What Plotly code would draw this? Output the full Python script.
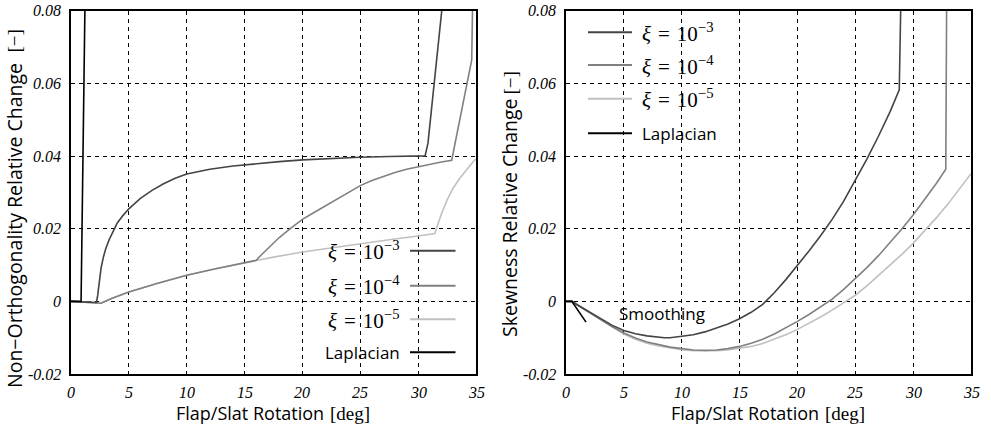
import plotly.graph_objects as go

# ---------------- data ----------------
# Non-orthogonality relative change vs flap/slat rotation
no_lap_x = [0, 0.87, 1.22]
no_lap_y = [0, 0, 0.085]

no_e3_x = [0, 1, 2.2, 2.3, 2.45, 2.6, 2.8, 3.0, 3.3, 3.6, 4.0, 4.5, 5, 6, 7, 8, 9, 10, 12, 14,
           16, 18, 20, 22.5, 25, 27.5, 30.6, 30.85, 32.2]
no_e3_y = [0, -0.0002, -0.0003, 0.0015, 0.0058, 0.0092, 0.0122, 0.0145, 0.0170, 0.0189, 0.0216,
           0.0237, 0.0255, 0.0284, 0.0306, 0.0324, 0.0339, 0.0351, 0.0364, 0.0373, 0.0380, 0.0385,
           0.0390, 0.0394, 0.0397, 0.0399, 0.0401, 0.0436, 0.085]

no_e4_x = [0, 1, 2.6, 3.5, 5, 7.5, 10, 12.5, 15, 16, 16.5, 17, 18, 19, 20, 21, 22, 23, 24, 25,
           26, 27, 28, 29, 30, 31, 32, 32.9, 34.63, 34.72]
no_e4_y = [0, -0.0002, -0.0005, 0.0008, 0.0026, 0.005, 0.0072, 0.009, 0.0107, 0.0113, 0.0130,
           0.0146, 0.0176, 0.0202, 0.0226, 0.0245, 0.0264, 0.0282, 0.0302, 0.0319, 0.0333,
           0.0345, 0.0355, 0.0364, 0.0371, 0.0378, 0.0384, 0.0389, 0.0665, 0.085]

no_e5_x = [0, 1, 2.6, 3.5, 5, 7.5, 10, 12.5, 15, 17.5, 20, 22.5, 25, 27.5, 30, 31.45, 31.7,
           32.0, 32.5, 33.0, 33.6, 34.2, 34.8, 35]
no_e5_y = [0, -0.0002, -0.0005, 0.0008, 0.0026, 0.005, 0.0072, 0.009, 0.0107, 0.0122, 0.0136,
           0.0148, 0.0159, 0.017, 0.018, 0.0187, 0.0212, 0.0240, 0.0279, 0.0311, 0.0339, 0.0364,
           0.0387, 0.0393]

# Skewness relative change vs flap/slat rotation
sk_lap_x = [0, 0.5, 1.73]
sk_lap_y = [0, 0, -0.0057]

sk_e3_x = [0, 0.5, 1, 1.5, 2, 3, 4, 5, 6, 7, 8, 8.5, 9, 10, 11, 12, 13, 14, 15, 16, 17, 18,
           19, 20, 21, 22, 23, 24, 25, 26, 27, 28, 28.8, 28.95]
sk_e3_y = [0, 0, -0.0010, -0.0019, -0.0029, -0.0048, -0.0066, -0.0080, -0.0089, -0.0095, -0.0099,
           -0.0100, -0.0100, -0.0097, -0.0092, -0.0084, -0.0074, -0.0062, -0.0048, -0.0030,
           -0.0008, 0.0024, 0.0060, 0.0098, 0.0139, 0.0181, 0.0226, 0.0276, 0.0333, 0.0392,
           0.0455, 0.0522, 0.0583, 0.085]

sk_e4_x = [0, 0.5, 1, 1.5, 2, 3, 4, 5, 6, 7, 8, 9, 10, 11, 12, 13, 14, 15, 16, 17, 18, 19, 20,
           21, 22, 23, 24, 25, 26, 27, 28, 29, 30, 31, 32, 32.82, 32.9]
sk_e4_y = [0, 0, -0.0010, -0.0020, -0.0030, -0.0050, -0.0070, -0.0087, -0.0101, -0.0112,
           -0.0120, -0.0126, -0.0130, -0.0134, -0.0135, -0.0134, -0.0130, -0.0124, -0.0115,
           -0.0104, -0.0090, -0.0073, -0.0055, -0.0036, -0.0016, 0.0006, 0.0033, 0.0062, 0.0093,
           0.0126, 0.0161, 0.0199, 0.0238, 0.0281, 0.0325, 0.0364, 0.085]

sk_e5_x = [0, 0.5, 1, 1.5, 2, 3, 4, 5, 6, 7, 8, 9, 10, 11, 12, 13, 14, 15, 16, 17, 18, 19, 20,
           21, 22, 23, 24, 25, 26, 27, 28, 29, 30, 31, 32, 33, 34, 35]
sk_e5_y = [0, 0, -0.0010, -0.0020, -0.0030, -0.0051, -0.0072, -0.0090, -0.0104, -0.0115,
           -0.0123, -0.0129, -0.0133, -0.0136, -0.0137, -0.0136, -0.0134, -0.0130, -0.0124,
           -0.0116, -0.0105, -0.0092, -0.0077, -0.0061, -0.0043, -0.0024, -0.0004, 0.0017,
           0.0043, 0.0071, 0.0100, 0.0129, 0.0160, 0.0194, 0.0230, 0.0268, 0.0309, 0.0352]

SP = "\u2004"  # three-per-em space around the relation sign
series_names = ["<i>ξ</i>%s=%s10<sup>−3</sup>" % (SP, SP),
                "<i>ξ</i>%s=%s10<sup>−4</sup>" % (SP, SP),
                "<i>ξ</i>%s=%s10<sup>−5</sup>" % (SP, SP),
                "Laplacian"]
series_colors = ["#444444", "#808080", "#c0c0c0", "#000000"]

x_ticks = [0, 5, 10, 15, 20, 25, 30, 35]
x_tick_text = ["0", "5", "10", "15", "20", "25", "30", "35"]
y_ticks = [-0.02, 0, 0.02, 0.04, 0.06, 0.08]
y_tick_text = ["-0.02", "0", "0.02", "0.04", "0.06", "0.08"]

W, H = 991, 425
SANS = "Open Sans, Lato, sans-serif"
SERIF = "Liberation Serif, DejaVu Serif, serif"


def px(x):
    return x / W


def py(y):
    return 1 - y / H


fig = go.Figure()

left = [(no_e3_x, no_e3_y), (no_e4_x, no_e4_y), (no_e5_x, no_e5_y), (no_lap_x, no_lap_y)]
right = [(sk_e3_x, sk_e3_y), (sk_e4_x, sk_e4_y), (sk_e5_x, sk_e5_y), (sk_lap_x, sk_lap_y)]

# lighter curves first so darker ones sit on top
for i in [2, 1, 0, 3]:
    xs, ys = left[i]
    fig.add_trace(go.Scatter(x=xs, y=ys, mode="lines", xaxis="x", yaxis="y",
                             line=dict(color=series_colors[i], width=1.6),
                             showlegend=False))
for i in [2, 1, 0, 3]:
    xs, ys = right[i]
    fig.add_trace(go.Scatter(x=xs, y=ys, mode="lines", xaxis="x2", yaxis="y2",
                             line=dict(color=series_colors[i], width=1.6),
                             showlegend=False))

axis_common = dict(
    range=[0, 35], showgrid=True, gridcolor="black", gridwidth=1, griddash="4px,4px",
    zeroline=False, showline=True, linecolor="black", linewidth=1.5, mirror=True,
    ticks="", tickmode="array", tickvals=x_ticks, showticklabels=False,
)
yaxis_common = dict(
    range=[-0.02, 0.08], showgrid=True, gridcolor="black", gridwidth=1, griddash="4px,4px",
    zeroline=False, showline=True, linecolor="black", linewidth=1.5, mirror=True,
    ticks="", tickmode="array", tickvals=y_ticks, showticklabels=False,
)

fig.update_layout(
    width=W, height=H, margin=dict(l=0, r=0, t=0, b=0),
    paper_bgcolor="white", plot_bgcolor="white",
    font=dict(family=SANS, size=17, color="black"),
    xaxis=dict(domain=[px(71), px(476)], anchor="y", **axis_common),
    yaxis=dict(domain=[py(374), py(11)], anchor="x", **yaxis_common),
    xaxis2=dict(domain=[px(566), px(971)], anchor="y2", **axis_common),
    yaxis2=dict(domain=[py(374), py(11)], anchor="x2", **yaxis_common),
)

shapes = []
annotations = []
tick_font = dict(family=SERIF, size=16, color="black")

# italic serif tick labels placed on the axis scales
for xa, ya, left_px in [("x", "y", 71), ("x2", "y2", 566)]:
    for v, t in zip(x_ticks, x_tick_text):
        annotations.append(dict(xref=xa, yref="paper", x=v, y=py(392), showarrow=False,
                                xanchor="center", yanchor="middle", text="<i>%s</i>" % t,
                                font=tick_font))
    for v, t in zip(y_ticks, y_tick_text):
        annotations.append(dict(xref="paper", yref=ya, x=px(left_px - 8), y=v, showarrow=False,
                                xanchor="right", yanchor="middle", text="<i>%s</i>" % t,
                                font=tick_font))

# legend backgrounds (above grid, below curves)
shapes.append(dict(type="rect", xref="paper", yref="paper", layer="between",
                   x0=px(318), x1=px(466), y0=py(372.5), y1=py(244),
                   fillcolor="white", line=dict(width=0)))
shapes.append(dict(type="rect", xref="paper", yref="paper", layer="between",
                   x0=px(576), x1=px(733), y0=py(150), y1=py(12.5),
                   fillcolor="white", line=dict(width=0)))

label_font = dict(family=SANS, size=17, color="black")
math_font = dict(family=SERIF, size=21, color="black")

# left legend: text on the left, line sample on the right
left_rows = [250.7, 285.7, 319.3, 352.3]
for i, yc in enumerate(left_rows):
    shapes.append(dict(type="line", xref="paper", yref="paper", layer="above",
                       x0=px(410), x1=px(455.5), y0=py(yc), y1=py(yc),
                       line=dict(color=series_colors[i], width=2)))
    annotations.append(dict(xref="paper", yref="paper", x=px(402), y=py(yc),
                            xanchor="right", yanchor="middle", showarrow=False,
                            text=series_names[i],
                            font=math_font if i < 3 else label_font))

# right legend: line sample on the left, text on the right
right_rows = [32.3, 65, 98.7, 133.3]
for i, yc in enumerate(right_rows):
    shapes.append(dict(type="line", xref="paper", yref="paper", layer="above",
                       x0=px(588), x1=px(632), y0=py(yc), y1=py(yc),
                       line=dict(color=series_colors[i], width=2)))
    annotations.append(dict(xref="paper", yref="paper", x=px(640), y=py(yc),
                            xanchor="left", yanchor="middle", showarrow=False,
                            text=series_names[i],
                            font=math_font if i < 3 else label_font))

# axis titles: sans words with a serif unit bracket
xtitle_font = dict(family=SANS, size=18, color="black")
ytitle_font = dict(family=SANS, size=19.5, color="black")
unit_font = dict(family=SERIF, size=19, color="black")
for off in [0, 495]:
    annotations.append(dict(xref="paper", yref="paper", x=px(250 + off), y=py(413),
                            xanchor="center", yanchor="middle", showarrow=False,
                            text="Flap/Slat Rotation", font=xtitle_font))
    annotations.append(dict(xref="paper", yref="paper", x=px(350 + off), y=py(413),
                            xanchor="center", yanchor="middle", showarrow=False,
                            text="[deg]", font=unit_font))

annotations.append(dict(xref="paper", yref="paper", x=px(14), y=py(226), textangle=-90,
                        xanchor="center", yanchor="middle", showarrow=False,
                        text="Non−Orthogonality Relative Change", font=ytitle_font))
annotations.append(dict(xref="paper", yref="paper", x=px(14), y=py(41.5), textangle=-90,
                        xanchor="center", yanchor="middle", showarrow=False,
                        text="[−]", font=unit_font))
annotations.append(dict(xref="paper", yref="paper", x=px(509.5), y=py(217.5), textangle=-90,
                        xanchor="center", yanchor="middle", showarrow=False,
                        text="Skewness Relative Change", font=ytitle_font))
annotations.append(dict(xref="paper", yref="paper", x=px(509.5), y=py(83), textangle=-90,
                        xanchor="center", yanchor="middle", showarrow=False,
                        text="[−]", font=unit_font))

# in-plot label
annotations.append(dict(xref="x2", yref="y2", x=8.3, y=-0.0033, showarrow=False,
                        xanchor="center", yanchor="middle", text="Smoothing",
                        font=label_font))

fig.update_layout(shapes=shapes, annotations=annotations)

fig.write_html("out.html")
